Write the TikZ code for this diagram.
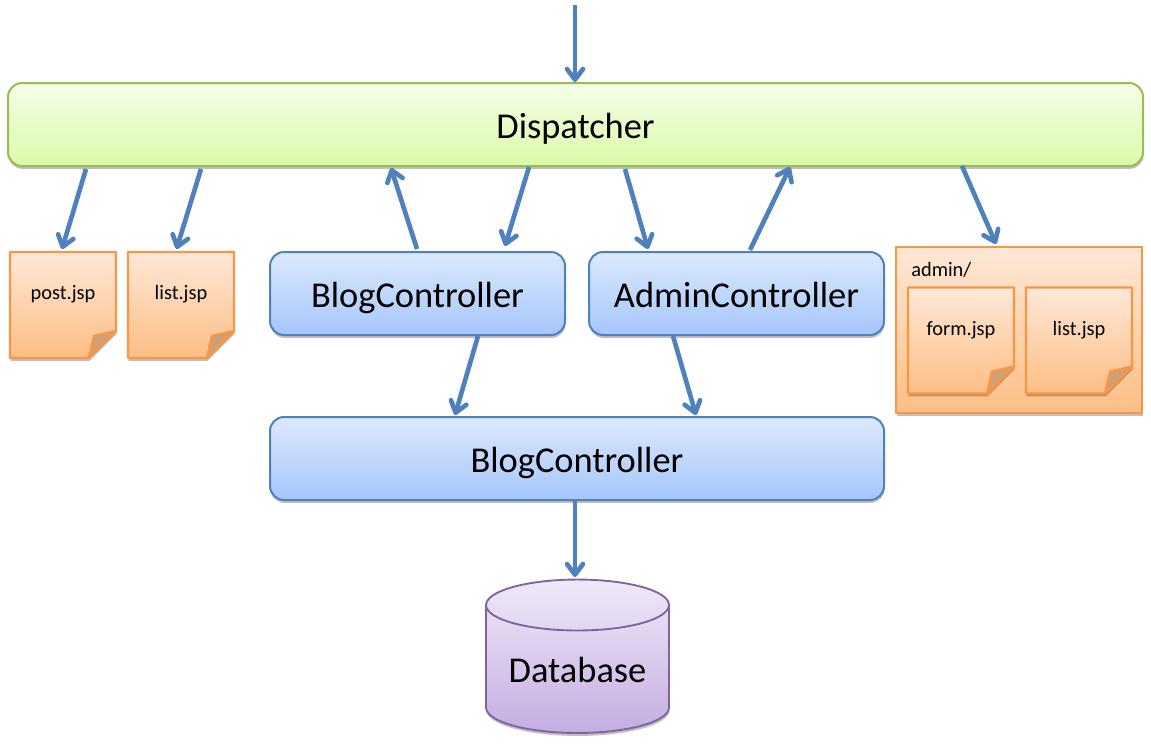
\documentclass[tikz,border=0pt]{standalone}
\usepackage{fontspec}
\setmainfont{Carlito}
\usetikzlibrary{arrows.meta,positioning,backgrounds,shadows}

\definecolor{arrowblue}{HTML}{4F81BD}
\definecolor{notebrown}{HTML}{CFA078}
\definecolor{noteorange}{HTML}{F79646}
\definecolor{notetop}{HTML}{FEE8D8}
\definecolor{notebottom}{HTML}{FDBE84}
\definecolor{boxtop}{HTML}{DCE9FC}
\definecolor{boxbottom}{HTML}{A5C6FB}
\definecolor{disptop}{HTML}{F4FEE8}
\definecolor{dispbottom}{HTML}{DAFBA8}
\definecolor{displine}{HTML}{9BBB59}
\definecolor{dbline}{HTML}{8064A2}
\definecolor{dbtop}{HTML}{F0E9F8}
\definecolor{dbbottom}{HTML}{C4ADE2}

\newcommand{\notefold}[1]{%
  \begin{scope}[on background layer]
    \draw[notepage] (#1.north west) -- (#1.north east) -- ([shift={(0,-27)}]#1.south east)
      -- ([shift={(-27,0)}]#1.south east) -- (#1.south west) -- cycle;
    \draw[draw=noteorange, line width=1.8pt, fill=notebrown, line join=round]
      ([shift={(0,-27)}]#1.south east) -- ([shift={(-22,-22)}]#1.south east) -- ([shift={(-27,0)}]#1.south east) -- cycle;
  \end{scope}
}

\begin{document}
\begin{tikzpicture}[
    x=0.75pt, y=-0.75pt,
    softshadow/.style={drop shadow={shadow xshift=0.4pt, shadow yshift=-2.2pt, opacity=0.25, fill=black}},
    bigbox/.style={rectangle, draw=arrowblue, line width=1.5pt, rounded corners=10.5pt, outer sep=0pt, align=center,
      font=\fontsize{27.3}{32}\selectfont, text height=23.5pt, text depth=2.5pt, top color=boxtop, bottom color=boxbottom, softshadow},
    notebox/.style={rectangle, minimum width=79.5pt, minimum height=79.5pt, outer sep=0pt, inner sep=0pt,
      font=\fontsize{15.3}{18}\selectfont, text height=10pt, text depth=18pt},
    notepage/.style={draw=noteorange, line width=1.8pt, line join=round, top color=notetop,
      bottom color=notebottom, softshadow},
    arrow/.style={-{Straight Barb[length=8pt,width=12pt,round]}, draw=arrowblue, line width=3.5pt},
    dbarc/.style={x radius=68.6pt, y radius=19.1pt}
]
\useasboundingbox (0,0) rectangle (1151,744);

% Dispatcher
\coordinate (entry) at (575,5);
\node[bigbox, draw=displine, minimum width=851.25pt, minimum height=62.25pt,
  top color=disptop, bottom color=dispbottom] (disp) at (575.5,124.5) {Dispatcher};

% Views
\node[notebox] (post) at (63,305) {post.jsp};
\node[notebox, right=9pt of post] (list) {list.jsp};
\notefold{post}
\notefold{list}

% Controllers
\node[bigbox, minimum width=221.25pt, minimum height=62.25pt] (blog) at (417.5,293.5) {BlogController};
\node[bigbox, minimum width=221.25pt, minimum height=62.25pt, right=18pt of blog] (admin) {AdminController};
\node[bigbox, minimum width=460.5pt, minimum height=62.25pt] (model) at (577,458.5) {BlogController};

% Admin folder
\begin{scope}[on background layer]
\node[rectangle, draw=noteorange, line width=1.8pt, outer sep=0pt, minimum width=184.5pt, minimum height=124.5pt,
  top color=notetop, bottom color=notebottom, softshadow] (folder) at (1019,330) {};
\end{scope}
\node[font=\fontsize{15.3}{18}\selectfont, anchor=base west, inner sep=0pt] (folderlabel) at (911,276) {admin/};
\node[notebox] (form) at (961,340.5) {form.jsp};
\node[notebox, right=9pt of form] (adminlist) {list.jsp};
\notefold{form}
\notefold{adminlist}

% Database
\node[rectangle, minimum width=137.25pt, minimum height=115.5pt, outer sep=0pt, inner sep=0pt,
  font=\fontsize{27.3}{32}\selectfont, text height=41pt, text depth=2pt] (db) at (577.5,656) {Database};
\begin{scope}[on background layer]
\draw[draw=dbline, line width=1.4pt, top color=dbtop, bottom color=dbbottom, softshadow]
  ([shift={(0,26)}]db.north west) -- ([shift={(0,-25.5)}]db.south west) arc[start angle=180, end angle=360, dbarc]
  -- ([shift={(0,26)}]db.north east) arc[start angle=0, end angle=180, dbarc] -- cycle;
\draw[draw=dbline, line width=1.4pt] ([shift={(0,26)}]db.north west) arc[start angle=180, end angle=360, dbarc];
\end{scope}

% Arrows
\draw[arrow] (entry) -- ([shift={(-0.5,-1)}]disp.north);
\draw[arrow] ([shift={(-489.5,3)}]disp.south) -- ([shift={(-1,-3)}]post.north);
\draw[arrow] ([shift={(-374.5,3)}]disp.south) -- ([shift={(-4.5,-3)}]list.north);
\draw[arrow] ([shift={(-0.5,-3)}]blog.north) -- ([shift={(-184.5,2)}]disp.south);
\draw[arrow] ([shift={(-46.5,1)}]disp.south) -- ([shift={(87.5,-6)}]blog.north);
\draw[arrow] ([shift={(49.5,3)}]disp.south) -- ([shift={(-88.5,-3)}]admin.north);
\draw[arrow] ([shift={(13.5,-2)}]admin.north) -- ([shift={(214.5,1)}]disp.south);
\draw[arrow] ([shift={(386.5,0)}]disp.south) -- ([shift={(-23,-3)}]folder.north);
\draw[arrow] ([shift={(60.5,1)}]blog.south) -- ([shift={(-122,-2)}]model.north);
\draw[arrow] ([shift={(-63.5,1)}]admin.south) -- ([shift={(119,-2)}]model.north);
\draw[arrow] ([shift={(-2,1)}]model.south) -- ([shift={(-2.5,-2)}]db.north);

\end{tikzpicture}
\end{document}
